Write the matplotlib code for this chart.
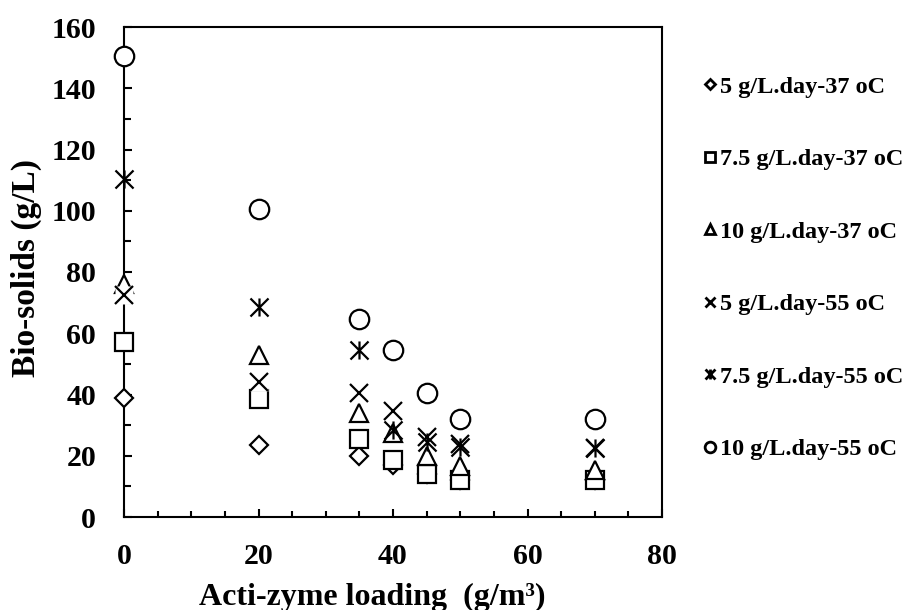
import matplotlib
matplotlib.use('Agg')
import matplotlib.pyplot as plt
from matplotlib.path import Path
from matplotlib.ticker import MultipleLocator

# ---- data ----
loading = [0, 20, 35, 40, 45, 50, 70]
d5_37 = [39, 23.5, 20, 17, 14, 12, 12]
d75_37 = [57, 38.5, 25.5, 18.5, 14, 12, 12]
d10_37 = [76, 53, 34, 27.5, 20, 16.5, 15.5]
d5_55 = [72.5, 44, 40.5, 34.5, 26, 24, 22.5]
d75_55 = [110.5, 68.5, 54.5, 28.5, 24.5, 23, 22.5]
d10_55 = [150.5, 100.5, 64.5, 54.5, 40.5, 32, 32]
labels = ['5 g/L.day-37 oC', '7.5 g/L.day-37 oC', '10 g/L.day-37 oC',
          '5 g/L.day-55 oC', '7.5 g/L.day-55 oC', '10 g/L.day-55 oC']
xticks = [0, 20, 40, 60, 80]
yticks = [0, 20, 40, 60, 80, 100, 120, 140, 160]

plt.rcParams['font.family'] = ['Liberation Serif', 'DejaVu Serif']
plt.rcParams['font.weight'] = 'bold'

fig = plt.figure(figsize=(9.07, 6.10), dpi=100)
ax = fig.add_axes([124/907, 93/610, 538/907, 490/610])

asterisk = Path([(-1, -1), (1, 1), (-1, 1), (1, -1), (0, -1), (0, 1)],
                [Path.MOVETO, Path.LINETO] * 3)

common = dict(linestyle='none', mec='black', mew=1.6, mfc='white', clip_on=False)
handles = []
h, = ax.plot(loading, d5_37, marker='D', ms=9.5, zorder=3, **common); handles.append(h)
h, = ax.plot(loading, d75_37, marker='s', ms=13, zorder=4, **common); handles.append(h)
h, = ax.plot(loading, d10_37, marker='^', ms=13.5, zorder=5, **common); handles.append(h)
ax.plot(loading, d5_55, marker='s', ms=13, linestyle='none', mfc='white', mec='none',
        zorder=5.5, clip_on=False)
h, = ax.plot(loading, d5_55, marker='x', ms=13, zorder=6, **common); handles.append(h)
h, = ax.plot(loading, d75_55, marker=asterisk, ms=13, zorder=7, **common); handles.append(h)
h, = ax.plot(loading, d10_55, marker='o', ms=14, zorder=8, **common); handles.append(h)

ax.set_xlim(0, 80)
ax.set_ylim(0, 160)
ax.set_xticks(xticks)
ax.set_yticks(yticks)
ax.xaxis.set_minor_locator(MultipleLocator(5))
ax.yaxis.set_minor_locator(MultipleLocator(10))
ax.tick_params(which='both', direction='in', top=False, right=False, width=1.5,
               labelsize=21.5)
ax.tick_params(axis='x', which='major', length=6, pad=19)
ax.tick_params(axis='x', which='minor', length=4.5)
ax.tick_params(axis='y', which='major', length=6, pad=20)
ax.tick_params(axis='y', which='minor', length=5)
for t in ax.get_xticklabels() + ax.get_yticklabels():
    t.set_fontweight('bold')
for s in ax.spines.values():
    s.set_linewidth(1.5)

fig.text(372/907, 1 - 597/610, 'Acti-zyme loading  (g/m³)', ha='center', va='center',
         fontsize=23, fontweight='bold')
fig.text(26/907, 1 - 268/610, 'Bio-solids (g/L)', ha='center', va='center',
         rotation=90, fontsize=24, fontweight='bold')

leg = ax.legend(handles, labels, loc='center left',
                bbox_to_anchor=(703/907, 1 - 268/610), bbox_transform=fig.transFigure,
                frameon=False, markerscale=0.55, handlelength=0.55, handletextpad=0.15,
                labelspacing=2.08, borderpad=0, borderaxespad=0,
                prop={'size': 17.5, 'weight': 'bold'})
for lh in leg.legend_handles:
    lh.set_markeredgewidth(2.0)

fig.savefig('out.png', dpi=100)
